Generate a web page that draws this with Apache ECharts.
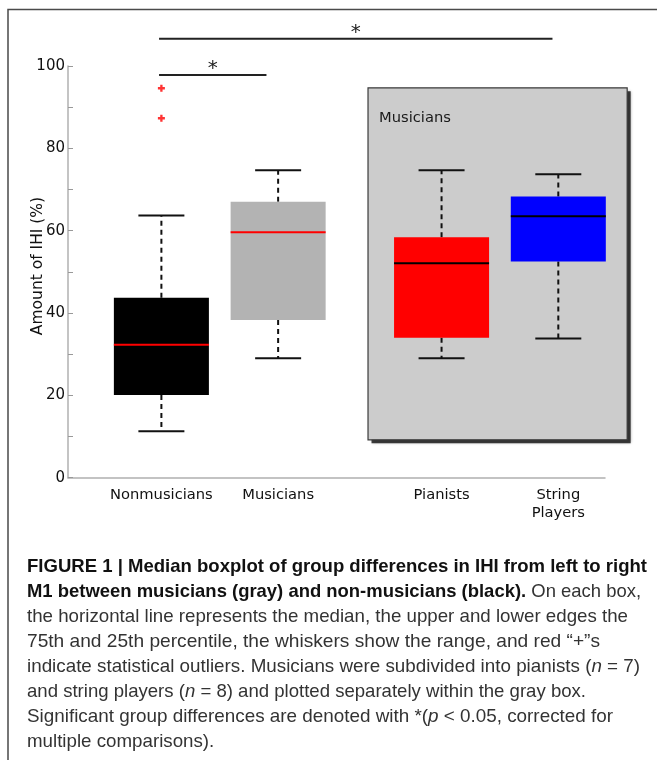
<!DOCTYPE html>
<html>
<head>
<meta charset="utf-8">
<script src="https://cdn.jsdelivr.net/npm/echarts@6/dist/echarts.min.js"></script>
<style>
html,body{margin:0;padding:0;background:#fff;}
#chart{width:657px;height:760px;}
</style>
</head>
<body>
<div id="chart"></div>
<script>
// ---- data ----
const categories = ['Nonmusicians', 'Musicians', 'Pianists', 'String\nPlayers'];
const positions = [1, 2, 3.4, 4.4];
const lows    = [11.3, 29.0, 29.0, 33.8];
const q1s     = [20.1, 38.3, 34.0, 52.5];
const medians = [32.3, 59.6, 52.1, 63.5];
const q3s     = [43.7, 67.0, 58.4, 68.3];
const highs   = [63.7, 74.7, 74.7, 73.7];
const outliers = [[1, 94.6], [1, 87.3]];
const yTicks = [0, 20, 40, 60, 80, 100];
// significance bars: [from, to, level]
const sigBars = [[0.98, 1.9, 97.8], [0.98, 4.35, 106.6]];
// inset "Musicians" box extent: [x1, yTop, x2, yBottom]
const insetBox = [[2.77, 94.7, 4.99, 9.2]];

// ---- styles ----
const boxColors = ['#000000', '#b3b3b3', '#ff0000', '#0000ff'];
const medianColors = ['#ff0000', '#ff0000', '#000000', '#000000'];
const FONT = 'DejaVu Sans';

const chart = echarts.init(document.getElementById('chart'), null, {renderer: 'canvas'});

const boxData = positions.map((p, i) => [p, lows[i], q1s[i], medians[i], q3s[i], highs[i], i]);

function renderBox(params, api) {
  const p = api.value(0), lo = api.value(1), q1 = api.value(2), md = api.value(3), q3 = api.value(4), hi = api.value(5);
  const idx = api.value(6);
  const hw = 0.407, cw = 0.197;
  const L = api.coord([p - hw, q3]), R = api.coord([p + hw, q1]);
  const cL = api.coord([p - cw, hi])[0], cR = api.coord([p + cw, hi])[0];
  const c = api.coord([p, md]);
  const yLo = api.coord([p, lo])[1], yHi = api.coord([p, hi])[1];
  const yQ1 = R[1], yQ3 = L[1];
  const dash = {stroke: '#111', lineWidth: 2, lineDash: [5, 4]};
  const solid = {stroke: '#111', lineWidth: 2};
  return {
    type: 'group',
    children: [
      {type: 'line', shape: {x1: c[0], y1: yQ3, x2: c[0], y2: yHi}, style: dash},
      {type: 'line', shape: {x1: c[0], y1: yQ1, x2: c[0], y2: yLo}, style: dash},
      {type: 'line', shape: {x1: cL, y1: yHi, x2: cR, y2: yHi}, style: solid},
      {type: 'line', shape: {x1: cL, y1: yLo, x2: cR, y2: yLo}, style: solid},
      {type: 'rect', shape: {x: L[0], y: yQ3, width: R[0] - L[0], height: yQ1 - yQ3}, style: {fill: boxColors[idx]}},
      {type: 'line', shape: {x1: L[0], y1: c[1], x2: R[0], y2: c[1]}, style: {stroke: medianColors[idx], lineWidth: 2}}
    ]
  };
}

function renderInset(params, api) {
  const a = api.coord([api.value(0), api.value(1)]);
  const b = api.coord([api.value(2), api.value(3)]);
  const w = b[0] - a[0], h = b[1] - a[1];
  return {
    type: 'group',
    children: [
      {type: 'rect', shape: {x: a[0] + 3.5, y: a[1] + 3.5, width: w, height: h},
        style: {fill: 'rgba(30,30,30,0.85)', shadowColor: 'rgba(0,0,0,0.5)', shadowBlur: 3}},
      {type: 'rect', shape: {x: a[0], y: a[1], width: w, height: h},
        style: {fill: '#cccccc', stroke: '#3a3a3a', lineWidth: 1.2}},
      {type: 'text', x: a[0] + 11, y: a[1] + 30,
        style: {text: 'Musicians', fontFamily: FONT, fontSize: 14.7, fill: '#1a1a1a', verticalAlign: 'middle', align: 'left'}}
    ]
  };
}

function renderSig(params, api) {
  const a = api.coord([api.value(0), api.value(2)]);
  const b = api.coord([api.value(1), api.value(2)]);
  return {
    type: 'group',
    children: [
      {type: 'line', shape: {x1: a[0], y1: a[1], x2: b[0], y2: b[1]}, style: {stroke: '#222', lineWidth: 2}},
      {type: 'text', x: (a[0] + b[0]) / 2, y: a[1] + 4,
        style: {text: '*', fontFamily: FONT, fontSize: 20, fill: '#222', align: 'center', verticalAlign: 'bottom'}}
    ]
  };
}

// ---- caption ----
const captionLines = [
  [['b', 'FIGURE 1 | Median boxplot of group differences in IHI from left to right']],
  [['b', 'M1 between musicians (gray) and non-musicians (black).'], ['r', ' On each box,']],
  [['r', 'the horizontal line represents the median, the upper and lower edges the']],
  [['r', '75th and 25th percentile, the whiskers show the range, and red \u201C+\u201Ds']],
  [['r', 'indicate statistical outliers. Musicians were subdivided into pianists ('], ['i', 'n'], ['r', ' = 7)']],
  [['r', 'and string players ('], ['i', 'n'], ['r', ' = 8) and plotted separately within the gray box.']],
  [['r', 'Significant group differences are denoted with *('], ['i', 'p'], ['r', ' < 0.05, corrected for']],
  [['r', 'multiple comparisons).']]
];
const captionRight = [647, 641, 628, 600, 640, 586, 613, null];
const CAP_FONT = 'Liberation Sans';
const CAP_SIZE = 18.5;
const capLeft = 27, capTop = 567, capStep = 25;
const fontFor = {
  b: `bold ${CAP_SIZE}px "${CAP_FONT}"`,
  r: `${CAP_SIZE}px "${CAP_FONT}"`,
  i: `italic ${CAP_SIZE}px "${CAP_FONT}"`
};
const mctx = document.createElement('canvas').getContext('2d');
function measure(line) {
  let w = 0;
  line.forEach(([k, t]) => { mctx.font = fontFor[k]; w += mctx.measureText(t).width; });
  return w;
}
const scales = captionLines.map((ln, i) => captionRight[i] ? (captionRight[i] - capLeft) / measure(ln) : null);
const known = scales.filter(s => s);
const avgScale = known.reduce((a, b) => a + b, 0) / known.length;
const captionGraphics = captionLines.map((ln, i) => ({
  type: 'text',
  x: capLeft, y: capTop + capStep * i,
  scaleX: scales[i] || avgScale,
  style: {
    text: ln.map(([k, t]) => `{${k}|${t}}`).join(''),
    verticalAlign: 'middle', align: 'left',
    rich: {
      b: {fontFamily: CAP_FONT, fontSize: CAP_SIZE, fontWeight: 'bold', fill: '#111'},
      r: {fontFamily: CAP_FONT, fontSize: CAP_SIZE, fill: '#333'},
      i: {fontFamily: CAP_FONT, fontSize: CAP_SIZE, fontStyle: 'italic', fill: '#333'}
    }
  }
}));

const option = {
  animation: false,
  backgroundColor: '#ffffff',
  grid: {left: 68, right: 52, top: 66, bottom: 282.3},
  xAxis: {
    type: 'value', min: 0.2, max: 4.8,
    axisLine: {show: true, lineStyle: {color: '#b0b0b0', width: 1.5}},
    axisTick: {show: false},
    splitLine: {show: false},
    axisLabel: {
      customValues: positions,
      formatter: v => { const i = positions.findIndex(p => Math.abs(p - v) < 1e-6); return i >= 0 ? categories[i] : ''; },
      fontFamily: FONT, fontSize: 14.7, color: '#111', margin: 8, lineHeight: 18, verticalAlign: 'top'
    }
  },
  yAxis: {
    type: 'value', min: 0, max: 100, interval: 20,
    axisLine: {show: true, lineStyle: {color: '#b0b0b0', width: 1.5}},
    axisTick: {show: true, inside: true, length: 5, lineStyle: {color: '#999'}},
    minorTick: {show: true, splitNumber: 2, length: 5, lineStyle: {color: '#999'}},
    splitLine: {show: false},
    axisLabel: {
      customValues: yTicks,
      fontFamily: FONT, fontSize: 15, color: '#111', margin: 3
    }
  },
  graphic: [
    {type: 'polyline', shape: {points: [[8, 760], [8, 9.5], [657, 9.5]]}, style: {stroke: '#4a4a4a', lineWidth: 1.5, fill: null}},
    {type: 'text', x: 38, y: 266, rotation: Math.PI / 2,
      style: {text: 'Amount of IHI (%)', fontFamily: FONT, fontSize: 15.5, fill: '#111', align: 'center', verticalAlign: 'middle'}}
  ].concat(captionGraphics),
  series: [
    {type: 'custom', name: 'inset', data: insetBox, renderItem: renderInset, clip: false, z: 1,
      encode: {x: [0, 2], y: [1, 3]}},
    {type: 'custom', name: 'boxes', data: boxData, renderItem: renderBox, clip: false, z: 3,
      encode: {x: 0, y: [1, 2, 3, 4, 5]}},
    {type: 'scatter', name: 'outliers', data: outliers, z: 4,
      symbol: 'path://M2,0H4V2H6V4H4V6H2V4H0V2H2Z', symbolSize: 7,
      itemStyle: {color: '#ff0000'}},
    {type: 'custom', name: 'sig', data: sigBars, renderItem: renderSig, clip: false, z: 5,
      encode: {x: [0, 1], y: 2}}
  ]
};
chart.setOption(option);
</script>
</body>
</html>
